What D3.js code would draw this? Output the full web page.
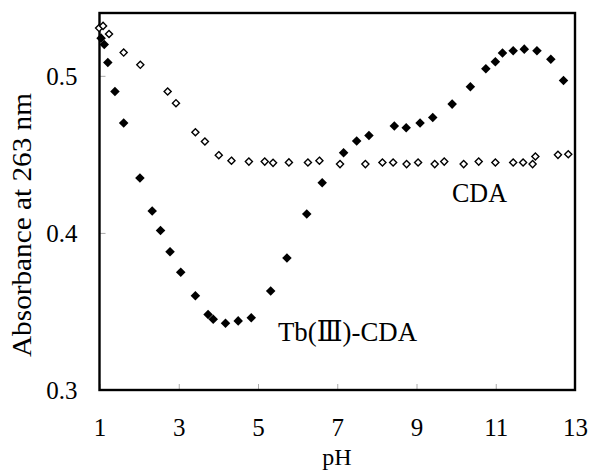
<!DOCTYPE html>
<html>
<head>
<meta charset="utf-8">
<script src="https://cdn.jsdelivr.net/npm/d3@7"></script>
<style>
  body { margin: 0; background: #fff; }
  svg text { font-family: "Liberation Serif", "Times New Roman", Tinos, "DejaVu Serif", "Noto Serif", serif; fill: #000; }
</style>
</head>
<body>
<svg width="591" height="470"></svg>
<script>
// pH values and absorbance for free CDA (open diamonds)
var cdaPH = [0.99, 1.09, 1.24, 1.61, 2.03, 2.72, 2.93, 3.42, 3.66, 4.01, 4.33, 4.77, 5.17, 5.38,
    5.78, 6.26, 6.55, 7.07, 7.71, 8.14, 8.41, 8.75, 9.04, 9.46, 9.70, 10.19, 10.57, 10.99,
    11.44, 11.69, 11.93, 12.00, 12.57, 12.83];
var cdaAbs = [0.5304, 0.5318, 0.5266, 0.5148, 0.5070, 0.4900, 0.4826, 0.4641, 0.4582, 0.4495,
    0.4460, 0.4454, 0.4454, 0.4446, 0.4449, 0.4448, 0.4460, 0.4438, 0.4438, 0.4448, 0.4448,
    0.4438, 0.4448, 0.4438, 0.4454, 0.4438, 0.4454, 0.4448, 0.4448, 0.4448, 0.4438, 0.4486,
    0.4497, 0.4501];

// Tb(III)-CDA complex (filled diamonds)
var tbPH = [1.04, 1.12, 1.21, 1.39, 1.61, 2.02, 2.33, 2.54, 2.78, 3.05, 3.42, 3.74, 3.87, 4.18,
    4.50, 4.83, 5.32, 5.73, 6.23, 6.62, 7.16, 7.49, 7.80, 8.44, 8.74, 9.09, 9.41, 9.90, 10.36,
    10.75, 10.99, 11.17, 11.44, 11.72, 12.04, 12.39, 12.71];
var tbAbs = [0.524, 0.520, 0.5085, 0.490, 0.470, 0.435, 0.414, 0.4015, 0.388, 0.375, 0.360,
    0.348, 0.345, 0.3425, 0.344, 0.346, 0.363, 0.384, 0.412, 0.432, 0.451, 0.4585, 0.462,
    0.468, 0.467, 0.470, 0.4735, 0.482, 0.493, 0.5045, 0.509, 0.5145, 0.516, 0.517, 0.516,
    0.5105, 0.497];

var xTicks = [1, 3, 5, 7, 9, 11, 13];
var yTicks = [0.3, 0.4, 0.5];

var serif = "'Liberation Serif', 'Times New Roman', Tinos, 'DejaVu Serif', 'Noto Serif', serif";

var margin = {top: 13, right: 16, bottom: 80, left: 99.5},
    width = 591 - margin.left - margin.right,
    height = 470 - margin.top - margin.bottom;

var svg = d3.select("svg")
    .append("g")
    .attr("transform", "translate(" + margin.left + "," + margin.top + ")");

var x = d3.scaleLinear().domain([1, 13]).range([0, width]),
    y = d3.scaleLinear().domain([0.3, 0.54]).range([height, 0]);

// inner grey tick marks
var xAxis = svg.append("g")
    .call(d3.axisBottom(x).tickValues(xTicks).tickSizeInner(-6).tickSizeOuter(0).tickPadding(30)
        .tickFormat(d3.format("d")));
xAxis.attr("transform", "translate(0," + height + ")");
var yAxis = svg.append("g")
    .call(d3.axisLeft(y).tickValues(yTicks).tickSizeInner(-6).tickSizeOuter(0).tickPadding(22)
        .tickFormat(d3.format(".1f")));

[xAxis, yAxis].forEach(function(ax) {
    ax.attr("font-family", serif).attr("font-size", 25);
    ax.select(".domain").remove();
    ax.selectAll(".tick line").attr("stroke", "#aaa").attr("stroke-width", 1);
    ax.selectAll(".tick text").attr("fill", "#000");
});
xAxis.selectAll(".tick text").attr("dy", 0).attr("y", 46);
yAxis.selectAll(".tick text").attr("dy", "0.35em");

// plot frame
svg.append("rect")
    .attr("width", width)
    .attr("height", height)
    .attr("fill", "none")
    .attr("stroke", "#000")
    .attr("stroke-width", 2.4);

svg.append("g").selectAll("path")
    .data(d3.range(cdaPH.length))
    .enter().append("path")
    .attr("transform", function(i) { return "translate(" + x(cdaPH[i]) + "," + y(cdaAbs[i]) + ")"; })
    .attr("d", d3.symbol().type(d3.symbolDiamond2).size(32))
    .attr("fill", "#fff")
    .attr("stroke", "#000")
    .attr("stroke-width", 1.4);

svg.append("g").selectAll("path")
    .data(d3.range(tbPH.length))
    .enter().append("path")
    .attr("transform", function(i) { return "translate(" + x(tbPH[i]) + "," + y(tbAbs[i]) + ")"; })
    .attr("d", d3.symbol().type(d3.symbolDiamond2).size(58))
    .attr("fill", "#000");

// labels
svg.append("text")
    .attr("x", 452 - margin.left)
    .attr("y", 202 - margin.top)
    .attr("textLength", 55)
    .attr("lengthAdjust", "spacingAndGlyphs")
    .style("font-size", "28px")
    .text("CDA");

svg.append("text")
    .attr("x", 278 - margin.left)
    .attr("y", 341 - margin.top)
    .attr("textLength", 139)
    .attr("lengthAdjust", "spacingAndGlyphs")
    .style("font-size", "28px")
    .text("Tb(Ⅲ)-CDA");

svg.append("text")
    .attr("x", 337 - margin.left)
    .attr("y", 465 - margin.top)
    .attr("text-anchor", "middle")
    .style("font-size", "24px")
    .text("pH");

svg.append("text")
    .attr("transform", "translate(" + (31 - margin.left) + "," + (225 - margin.top) + ")rotate(-90)")
    .attr("text-anchor", "middle")
    .attr("textLength", 264)
    .attr("lengthAdjust", "spacingAndGlyphs")
    .style("font-size", "27px")
    .text("Absorbance at 263 nm");
</script>
</body>
</html>
